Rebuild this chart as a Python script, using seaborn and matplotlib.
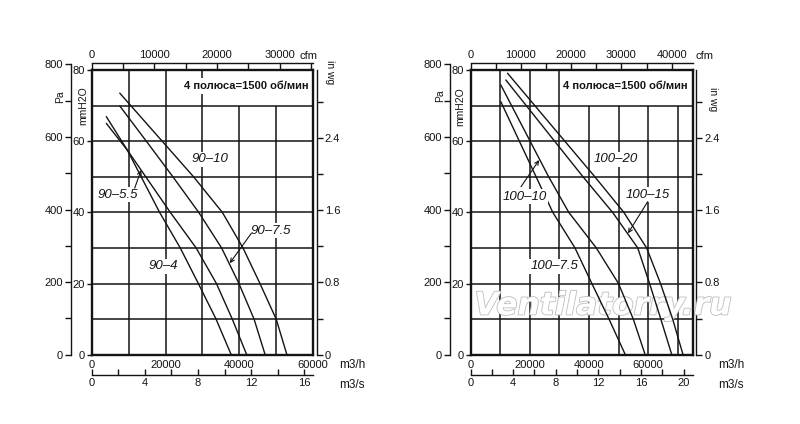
import numpy as np
import pandas as pd
import matplotlib
matplotlib.use("Agg")
import matplotlib.pyplot as plt
import matplotlib.patheffects as pe
from matplotlib.ticker import FuncFormatter
import seaborn as sns

# ---------------- data: airflow (m3/h) vs pressure (mmH2O) ----------------
left_names = ["90-4", "90-5.5", "90-7.5", "90-10"]
q_90_4 = [3960, 9650, 18400, 24000, 28900, 33700, 37800]
p_90_4 = [66.9, 57.5, 40, 30, 20, 10, 0]
q_90_55 = [3960, 9650, 21300, 28300, 33800, 38100, 42000]
p_90_55 = [65.0, 57.5, 40, 30, 20, 10, 0]
q_90_75 = [7600, 14800, 22000, 29000, 35200, 39900, 44000, 47000]
p_90_75 = [69.9, 60, 50, 40, 30, 20, 10, 0]
q_90_10 = [7600, 19100, 27600, 35400, 41000, 45600, 50000, 52900]
p_90_10 = [73.5, 60, 50, 40, 30, 20, 10, 0]

right_names = ["100-7.5", "100-10", "100-15", "100-20"]
q_100_75 = [10240, 27800, 35300, 41000, 46800, 52300]
p_100_75 = [71.1, 40, 30, 20, 10, 0]
q_100_10 = [10240, 26400, 33200, 42500, 50000, 55000, 59000]
p_100_10 = [75.8, 50, 40, 30, 20, 10, 0]
q_100_15 = [11930, 38000, 48000, 56500, 60500, 64300, 68000]
p_100_15 = [77.2, 50, 40, 30, 20, 10, 0]
q_100_20 = [12500, 42000, 51800, 59500, 64200, 68300, 71800]
p_100_20 = [79.1, 50, 40, 30, 20, 10, 0]

box_text = "4 полюса=1500 об/мин"
x_tick_labels = ["0", "20000", "40000", "60000"]
y_tick_labels = ["0", "20", "40", "60", "80"]

# unit conversions
PA_PER_MM = 9.80665
MM_PER_IN = 25.4
M3H_PER_CFM = 1.699
S_PER_H = 3600.0

# ---------------- style ----------------
sns.set_theme(style="ticks")
plt.rcParams["font.family"] = ["Liberation Sans", "DejaVu Sans"]
INK = "#141414"

W, H = 800, 424
fig = plt.figure(figsize=(8, 4.24), dpi=100)
fig.patch.set_facecolor("white")


def rect(x0, y0, x1, y1):
    return [x0 / W, 1 - y1 / H, (x1 - x0) / W, (y1 - y0) / H]


def ftext(px, py, s, **kw):
    kw.setdefault("ha", "center")
    kw.setdefault("va", "center")
    kw.setdefault("color", INK)
    fig.text(px / W, 1 - py / H, s, **kw)


def every(step):
    def f(v, pos):
        r = v / step
        return f"{v:g}" if abs(r - round(r)) < 1e-6 else ""
    return FuncFormatter(f)


TOP, BOT = 70.0, 354.7


def panel(x0, x1, qmax, names, qs, ps, full_v, part_v, cfm_max, m3s_max,
          labels, arrows, box_xy, units):
    ax = fig.add_axes(rect(x0, TOP, x1, BOT))
    ax.set_facecolor("white")
    frames = [pd.DataFrame({"q": q, "p": p, "fan": n}) for n, q, p in zip(names, qs, ps)]
    df = pd.concat(frames, ignore_index=True)

    # grid
    ax.hlines(np.arange(10, 80, 10), 0, qmax, color=INK, lw=1.1, zorder=1)
    ax.vlines(full_v, 0, 80, color=INK, lw=1.1, zorder=1)
    ax.vlines(part_v, 0, 70, color=INK, lw=1.1, zorder=1)

    sns.lineplot(data=df, x="q", y="p", hue="fan", palette=[INK] * len(names),
                 sort=False, estimator=None, legend=False, lw=1.0, ax=ax, zorder=3)
    ax.set_xlim(0, qmax)
    ax.set_ylim(0, 80)
    ax.set_xlabel("")
    ax.set_ylabel("")
    ax.set_xticks([0, 20000, 40000, 60000])
    ax.set_xticklabels(x_tick_labels)
    ax.set_yticks([0, 20, 40, 60, 80])
    ax.set_yticklabels(y_tick_labels)
    ax.tick_params(axis="x", bottom=True, length=0, pad=4, labelsize=8, labelcolor=INK)
    ax.tick_params(axis="y", left=True, direction="out", length=3.5, width=1,
                   pad=1.5, labelsize=8, labelcolor=INK, color=INK)
    for s in ax.spines.values():
        s.set_visible(True)
        s.set_linewidth(1.7)
        s.set_color(INK)

    # curve labels
    for (txt, lx, ly) in labels:
        ax.text(lx, ly, txt, ha="center", va="center", fontsize=9.5, style="italic",
                color=INK, zorder=4,
                bbox=dict(boxstyle="square,pad=0.12", fc="white", ec="none"))
    for (tail, tip) in arrows:
        ax.annotate("", xy=tip, xytext=tail, zorder=4,
                    arrowprops=dict(arrowstyle="->", lw=0.8, color=INK,
                                    mutation_scale=7, shrinkA=0, shrinkB=0))
    ax.text(box_xy[0], box_xy[1], box_text, ha="center", va="center", fontsize=8,
            fontweight="bold", color=INK, zorder=4,
            bbox=dict(boxstyle="square,pad=0.25", fc="white", ec="none"))

    # Pa axis (outer left)
    h_pa = (BOT - TOP) * (800 / PA_PER_MM) / 80
    pax = fig.add_axes(rect(x0 - 21, BOT - h_pa, x0 - 20, BOT))
    pax.patch.set_alpha(0)
    for k in ["top", "right", "bottom"]:
        pax.spines[k].set_visible(False)
    pax.spines["left"].set_linewidth(1.0)
    pax.spines["left"].set_color(INK)
    pax.set_xlim(0, 1)
    pax.set_ylim(0, 800)
    pax.set_xticks([])
    pax.set_yticks(np.arange(0, 801, 100))
    pax.yaxis.set_major_formatter(every(200))
    pax.tick_params(axis="y", left=True, direction="out", length=4, width=1,
                    pad=1.5, labelsize=8, labelcolor=INK, color=INK)

    # in wg axis (right)
    iax = ax.secondary_yaxis(1 + 3.5 / (x1 - x0),
                             functions=(lambda y: y / MM_PER_IN, lambda v: v * MM_PER_IN))
    iax.set_yticks(np.arange(0, 3.0, 0.4))
    iax.yaxis.set_major_formatter(every(0.8))
    iax.tick_params(axis="y", right=True, direction="out", length=4, width=1,
                    pad=2, labelsize=8, labelcolor=INK, color=INK)
    iax.spines["right"].set_linewidth(1.0)
    iax.spines["right"].set_color(INK)

    # cfm axis (top)
    cax = ax.secondary_xaxis(1 + 7 / (BOT - TOP),
                             functions=(lambda q: q / M3H_PER_CFM, lambda c: c * M3H_PER_CFM))
    cax.set_xticks(np.arange(0, cfm_max + 1, 5000))
    cax.xaxis.set_major_formatter(every(10000))
    cax.tick_params(axis="x", top=True, direction="in", length=4, width=1,
                    pad=2, labelsize=8, labelcolor=INK, color=INK)
    cax.spines["top"].set_linewidth(1.0)
    cax.spines["top"].set_color(INK)

    # m3/s axis (bottom)
    sax = ax.secondary_xaxis(-20.6 / (BOT - TOP),
                             functions=(lambda q: q / S_PER_H, lambda s: s * S_PER_H))
    sax.set_xticks(np.arange(0, m3s_max + 0.01, 2))
    sax.xaxis.set_major_formatter(every(4))
    sax.tick_params(axis="x", bottom=True, direction="in", length=4, width=1,
                    pad=2, labelsize=8, labelcolor=INK, color=INK)
    sax.spines["bottom"].set_linewidth(1.0)
    sax.spines["bottom"].set_color(INK)

    for (txt, px, py, rot, fs) in units:
        ftext(px, py, txt, fontsize=fs, rotation=rot)
    return ax


# ---------------- left panel ----------------
axL = panel(
    91.7, 313.1, 60000, left_names,
    [q_90_4, q_90_55, q_90_75, q_90_10], [p_90_4, p_90_55, p_90_75, p_90_10],
    [10000, 20000, 30000], [40000, 50000], 35000, 16,
    labels=[("90–10", 31980, 54.9), ("90–5.5", 7130, 44.9),
            ("90–7.5", 48670, 34.8), ("90–4", 19320, 24.9)],
    arrows=[((11650, 46.8), (13400, 51.9)), ((43250, 34.1), (37400, 25.7))],
    box_xy=(41900, 75.5),
    units=[("Pa", 60, 97, 90, 7.5), ("mmH2O", 83, 106, 90, 7.5),
           ("in wg", 330, 72, -90, 7.5), ("cfm", 309, 56, 0, 8),
           ("m3/h", 352, 365, 0, 8.5), ("m3/s", 352, 385, 0, 8.5)],
)

# ---------------- right panel ----------------
axR = panel(
    470.5, 692.5, 75000, right_names,
    [q_100_75, q_100_10, q_100_15, q_100_20], [p_100_75, p_100_10, p_100_15, p_100_20],
    [10000, 20000, 30000], [40000, 50000, 60000, 70000], 44000, 20.8,
    labels=[("100–20", 49150, 54.9), ("100–10", 18170, 44.4),
            ("100–15", 60060, 44.9), ("100–7.5", 28310, 24.9)],
    arrows=[((17060, 47.2), (23200, 54.7)), ((59860, 43.0), (53200, 34.1))],
    box_xy=(52260, 75.5),
    units=[("Pa", 440, 96, 90, 7.5), ("mmH2O", 460, 107, 90, 7.5),
           ("in wg", 712.7, 99, -90, 7.5), ("cfm", 705, 56, 0, 8),
           ("m3/h", 731, 365, 0, 8.5), ("m3/s", 731, 385, 0, 8.5)],
)

# watermark
axR.text(603 / W, 1 - 306 / H, "Ventilatorry.ru", transform=fig.transFigure,
         ha="center", va="center", fontsize=22.5, style="italic", fontweight="bold",
         family="DejaVu Sans", color="white", zorder=2, clip_on=False,
         path_effects=[pe.withStroke(linewidth=1.2, foreground="#bdbdbd")])

fig.savefig("out.png", dpi=100, facecolor="white")
